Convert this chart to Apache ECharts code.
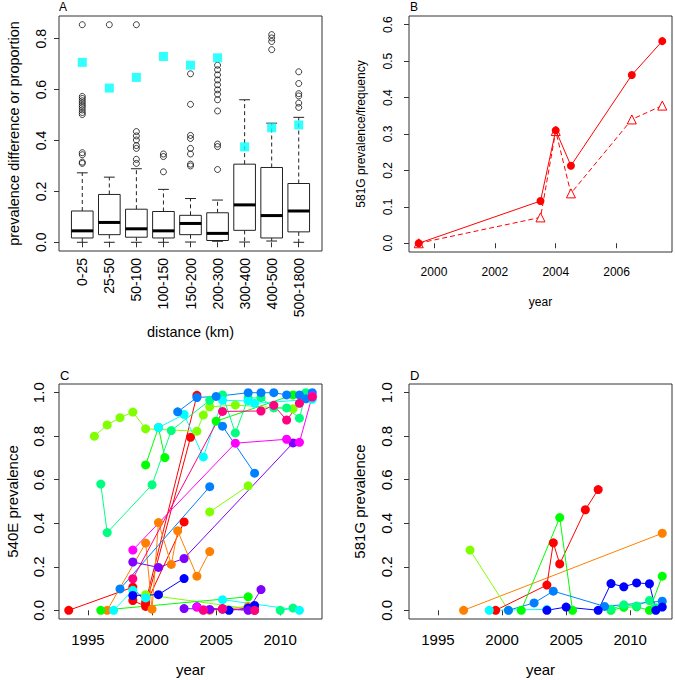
<!DOCTYPE html>
<html>
<head>
<meta charset="utf-8">
<script src="https://cdn.jsdelivr.net/npm/echarts@6/dist/echarts.min.js"></script>
<style>html,body{margin:0;padding:0;background:#fff}#c{width:675px;height:680px}</style>
</head>
<body>
<div id="c"></div>
<script>
// ---------- Panel A data ----------
const categoriesA = ['0-25','25-50','50-100','100-150','150-200','200-300','300-400','400-500','500-1800'];
const whiskerLowA = [0, 0, 0, 0, 0.001, 0.004, 0.001, 0.005, 0];
const q1A = [0.017, 0.030, 0.020, 0.017, 0.030, 0.007, 0.047, 0.017, 0.041];
const medianA = [0.045, 0.078, 0.053, 0.045, 0.074, 0.035, 0.147, 0.105, 0.123];
const q3A = [0.123, 0.188, 0.130, 0.121, 0.106, 0.116, 0.307, 0.294, 0.231];
const whiskerHighA = [0.273, 0.256, 0.289, 0.208, 0.172, 0.166, 0.560, 0.468, 0.491];
const outliersA = [
  [0.855, 0.573, 0.565, 0.556, 0.547, 0.538, 0.530, 0.520, 0.510, 0.502, 0.352, 0.344, 0.315, 0.310],
  [0.855],
  [0.855, 0.435, 0.418, 0.402, 0.380, 0.369, 0.326, 0.310],
  [0.347, 0.337, 0.277],
  [0.662, 0.542, 0.420, 0.408, 0.369, 0.347, 0.307, 0.300],
  [0.696, 0.678, 0.658, 0.638, 0.619, 0.599, 0.582, 0.560, 0.516, 0.386, 0.376, 0.286],
  [],
  [0.816, 0.803, 0.789, 0.757],
  [0.670, 0.624, 0.584, 0.575, 0.547, 0.530]
];
const proportionA = [0.707, 0.606, 0.648, 0.730, 0.696, 0.725, 0.375, 0.450, 0.461];
const yTicksA = [0, 0.2, 0.4, 0.6, 0.8];

// ---------- Panel B data ----------
const yearsB = [1999.5, 2003.5, 2004, 2004.5, 2006.5, 2007.5];
const prevalenceB = [0, 0.116, 0.310, 0.213, 0.462, 0.555];
const frequencyB = [0, 0.071, 0.308, 0.137, 0.340, 0.378];
const xTicksB = [2000, 2002, 2004, 2006];
const yTicksB = [0, 0.1, 0.2, 0.3, 0.4, 0.5, 0.6];

// ---------- Panel C data (540E prevalence by site) ----------
const c_red1 = [[1993.5,0],[1998.5,0.106],[1999.5,0.037],[2003.5,0.988]];
const c_red2 = [[1998.5,0.045],[1999.5,0.018],[2003,0.795]];
const c_red3 = [[1999.5,0.025],[2002.5,0.406]];
const c_red4 = [[2007.5,0.008],[2008,0]];
const c_orange1 = [[1996.5,0],[1999.5,0.309],[2000,0.005],[2000.5,0.403],[2001.5,0.211],[2002,0.365],[2003.5,0.157],[2004.5,0.27]];
const c_orange2 = [[2004.5,0],[2005.5,0.004],[2007.5,0.018],[2008,0.012]];
const c_lime1 = [[1995.5,0.80],[1996.5,0.852],[1997.5,0.885],[1998.5,0.911],[1999.5,0.834],[2003.5,0.823],[2004,0.897],[2004.5,0.935],[2006.5,0.943],[2011,0.926]];
const c_lime2 = [[1999.5,0.072],[2007.5,0.008]];
const c_lime3 = [[2004.5,0.452],[2007.5,0.572]];
const c_green1 = [[1996,0],[2007.5,0.062]];
const c_green2 = [[1999.5,0.668],[2000.5,0.84],[2001,0.702]];
const c_green3 = [[2005,0.869],[2011,0.99]];
const c_spring1 = [[1996,0.58],[1996.5,0.357],[2000,0.577],[2001.5,0.826],[2004.5,0.965],[2005.5,0.99],[2006.5,0.815],[2007.5,0.975],[2008.5,0.977],[2009.5,0.93],[2010.5,0.93],[2011.5,0.883],[2012,1.0]];
const c_spring2 = [[2010,0],[2011,0.01]];
const c_cyan1 = [[1997,0],[1998.5,0.092],[1999.5,0.057]];
const c_cyan2 = [[2000.5,0.84],[2002.5,0.90],[2004,0.705],[2005.5,0.965],[2007.5,0.962],[2008,0.951],[2012.5,0.97]];
const c_cyan3 = [[2005.5,0.049],[2011.5,0]];
const c_azure1 = [[2002,0.912],[2003.5,0.978],[2005,0.983],[2007.5,1.0],[2008.5,1.0],[2009.5,1.0],[2010.5,0.99],[2011.5,0.99],[2012,0.972],[2012.5,1.0]];
const c_azure2 = [[2005.5,0.846],[2008,0.63]];
const c_azure3 = [[1997.5,0.098],[2004.5,0.568]];
const c_blue1 = [[1998.5,0.068],[2000.5,0.072],[2002.5,0.146]];
const c_blue2 = [[2003.5,0.016],[2006,0],[2007.5,0.01],[2008,0.022]];
const c_violet1 = [[1998.5,0.222],[2000.5,0.197],[2002.5,0.238],[2011,0.769]];
const c_violet2 = [[2002.5,0.008],[2004.5,0.004],[2005.5,0.006],[2007.5,0],[2008.5,0.095]];
const c_magenta1 = [[1998.5,0.277],[2006.5,0.768],[2010.5,0.786],[2011.5,0.772],[2012.5,0.985]];
const c_magenta2 = [[2003.5,0.015],[2004,0.003]];
const c_rose1 = [[1998.5,0.145],[2005.5,0.914],[2008.5,0.916],[2009.5,0.942],[2010.5,0.874],[2011.5,0.951],[2012.5,0.98]];
const c_rose2 = [[2004,0],[2005.5,0.008],[2008,0]];

// ---------- Panel D data (581G prevalence by site) ----------
const d_orange = [[1997,0],[2012.5,0.354]];
const d_lime = [[1997.5,0.277],[2000.5,0]];
const d_red = [[1999.5,0],[2003.5,0.116],[2004,0.31],[2004.5,0.213],[2006.5,0.462],[2007.5,0.555]];
const d_green1 = [[2001.5,0],[2004.5,0.426],[2005.5,0]];
const d_green2 = [[2008.5,0],[2009.5,0.014],[2010.5,0.016],[2011.5,0],[2012.5,0.157]];
const d_spring = [[2008.5,0.005],[2009.5,0.025],[2010.5,0.02],[2011.5,0.045],[2012,0.012]];
const d_cyan = [[1999,0],[2003.5,0.004]];
const d_azure = [[2000.5,0],[2002.5,0.034],[2004,0.088],[2008,0.018],[2012.5,0.042]];
const d_blue = [[2003.5,0],[2005,0.015],[2007.5,0],[2008.5,0.123],[2009.5,0.108],[2010.5,0.126],[2011.5,0.122],[2012,0],[2012.5,0.015]];

const xTicksCD = [1995, 2000, 2005, 2010];
const yTicksCD = [0, 0.2, 0.4, 0.6, 0.8, 1.0];

// ---------- styling ----------
const FONT = '"Liberation Sans", Arial, Helvetica, sans-serif';
const COL = {red:'#FF0000', orange:'#FF8000', lime:'#80FF00', green:'#00FF00', spring:'#00FF80',
  cyan:'#00FFFF', azure:'#0080FF', blue:'#0000FF', violet:'#8000FF', magenta:'#FF00FF', rose:'#FF0080'};

const cSeries = [
  [c_red1,'red'],[c_red2,'red'],[c_red3,'red'],[c_red4,'red'],
  [c_orange1,'orange'],[c_orange2,'orange'],
  [c_lime1,'lime'],[c_lime2,'lime'],[c_lime3,'lime'],
  [c_green1,'green'],[c_green2,'green'],[c_green3,'green'],
  [c_spring1,'spring'],[c_spring2,'spring'],
  [c_cyan1,'cyan'],[c_cyan2,'cyan'],[c_cyan3,'cyan'],
  [c_azure1,'azure'],[c_azure2,'azure'],[c_azure3,'azure'],
  [c_blue1,'blue'],[c_blue2,'blue'],
  [c_violet1,'violet'],[c_violet2,'violet'],
  [c_magenta1,'magenta'],[c_magenta2,'magenta'],
  [c_rose1,'rose'],[c_rose2,'rose']
];
const dSeries = [
  [d_orange,'orange'],[d_lime,'lime'],[d_red,'red'],[d_green1,'green'],[d_green2,'green'],
  [d_spring,'spring'],[d_cyan,'cyan'],[d_azure,'azure'],[d_blue,'blue']
];

function gridBox(left, top, width, height){
  return {left, top, width, height, show:true, borderColor:'#333', borderWidth:1, backgroundColor:'transparent', containLabel:false};
}
function axis(gi, min, max, ticks, fmt, fs, name, nameGap, margin, rotate, nameFs){
  return {
    type:'value', gridIndex:gi, min, max, name, nameLocation:'middle', nameGap,
    nameTextStyle:{fontFamily:FONT, fontSize:nameFs||fs, color:'#000'},
    axisLine:{show:false},
    splitLine:{show:false},
    axisTick:{show:true, inside:false, length:5, customValues:ticks, lineStyle:{color:'#333', width:1}},
    axisLabel:{show:true, customValues:ticks, formatter:fmt, fontFamily:FONT, fontSize:fs, color:'#000', margin, rotate:rotate||0, hideOverlap:false}
  };
}
const f1 = v => Number(v).toFixed(1);
const fInt = v => String(Math.round(v));

// Panel A value ranges (R-style 4% expansion)
const aYmin = -0.0342, aYmax = 0.8892;

const boxData = categoriesA.map((c,i)=>[i+1, whiskerLowA[i], q1A[i], medianA[i], q3A[i], whiskerHighA[i]]);
const outlierData = [];
outliersA.forEach((arr,i)=>arr.forEach(v=>outlierData.push([i+1, v])));
const propData = proportionA.map((v,i)=>[i+1, v]);

function renderBox(params, api){
  const x = api.value(0);
  const pLo = api.coord([x, api.value(1)]);
  const pQ1 = api.coord([x, api.value(2)]);
  const pMed = api.coord([x, api.value(3)]);
  const pQ3 = api.coord([x, api.value(4)]);
  const pHi = api.coord([x, api.value(5)]);
  const hw = api.size([0.8, 0])[0] / 2;
  const sw = api.size([0.4, 0])[0] / 2;
  const cx = pMed[0];
  const stroke = {stroke:'#222', lineWidth:1};
  return {type:'group', children:[
    {type:'line', shape:{x1:cx, y1:pQ3[1], x2:cx, y2:pHi[1]}, style:Object.assign({lineDash:[4,3]}, stroke)},
    {type:'line', shape:{x1:cx, y1:pQ1[1], x2:cx, y2:pLo[1]}, style:Object.assign({lineDash:[4,3]}, stroke)},
    {type:'line', shape:{x1:cx-sw, y1:pHi[1], x2:cx+sw, y2:pHi[1]}, style:stroke},
    {type:'line', shape:{x1:cx-sw, y1:pLo[1], x2:cx+sw, y2:pLo[1]}, style:stroke},
    {type:'rect', shape:{x:cx-hw, y:pQ3[1], width:2*hw, height:pQ1[1]-pQ3[1]}, style:{fill:'#fff', stroke:'#222', lineWidth:1}},
    {type:'line', shape:{x1:cx-hw, y1:pMed[1], x2:cx+hw, y2:pMed[1]}, style:{stroke:'#000', lineWidth:3}}
  ]};
}

function lineSeries(data, color, xi, yi, size){
  return {type:'line', xAxisIndex:xi, yAxisIndex:yi, data, symbol:'circle', symbolSize:size, showSymbol:true, showAllSymbol:true,
    lineStyle:{color, width:1}, itemStyle:{color, borderWidth:0}, animation:false, silent:true, z:3};
}

const series = [];
series.push({type:'custom', xAxisIndex:0, yAxisIndex:0, data:boxData, renderItem:renderBox, encode:{x:0, y:[1,2,3,4,5]}, animation:false, silent:true, z:2});
series.push({type:'scatter', xAxisIndex:0, yAxisIndex:0, data:outlierData, symbol:'circle', symbolSize:6,
  itemStyle:{color:'rgba(0,0,0,0)', borderColor:'#111', borderWidth:1}, animation:false, silent:true, z:3});
series.push({type:'scatter', xAxisIndex:0, yAxisIndex:0, data:propData, symbol:'rect', symbolSize:9,
  itemStyle:{color:'#00FFFF'}, animation:false, silent:true, z:4});

// Panel B
series.push({type:'line', xAxisIndex:1, yAxisIndex:1, data:yearsB.map((y,i)=>[y, frequencyB[i]]), symbol:'triangle', symbolSize:9,
  lineStyle:{color:'#FF0000', width:1, type:[5,3]}, itemStyle:{color:'#fff', borderColor:'#FF0000', borderWidth:1}, animation:false, silent:true, z:3});
series.push({type:'line', xAxisIndex:1, yAxisIndex:1, data:yearsB.map((y,i)=>[y, prevalenceB[i]]), symbol:'circle', symbolSize:8,
  lineStyle:{color:'#FF0000', width:1}, itemStyle:{color:'#FF0000'}, animation:false, silent:true, z:4});

cSeries.forEach(([d,c])=>series.push(lineSeries(d, COL[c], 2, 2, 9)));
dSeries.forEach(([d,c])=>series.push(lineSeries(d, COL[c], 3, 3, 9)));

const option = {
  animation:false,
  backgroundColor:'#fff',
  textStyle:{fontFamily:FONT},
  grid:[gridBox(59,16,263,235), gridBox(409,16,263,236), gridBox(59,384,263,235), gridBox(409,384,263,235)],
  xAxis:[
    axis(0, 0.14, 9.86, [1,2,3,4,5,6,7,8,9], v=>categoriesA[Math.round(v)-1], 14, 'distance (km)', 73, 7, 90, 14.5),
    axis(1, 1999.18, 2007.82, xTicksB, fInt, 12, 'year', 44, 14),
    axis(2, 1992.74, 2013.26, xTicksCD, fInt, 15, 'year', 43, 13),
    axis(3, 1992.74, 2013.26, xTicksCD, fInt, 15, 'year', 43, 13)
  ],
  yAxis:[
    axis(0, aYmin, aYmax, yTicksA, f1, 14, 'prevalence difference or proportion', 38, 11, 90, 14.5),
    axis(1, -0.024, 0.624, yTicksB, f1, 12, '581G prevalence/frequency', 42, 15, 90),
    axis(2, -0.04, 1.04, yTicksCD, f1, 15, '540E prevalence', 39, 13, 90),
    axis(3, -0.04, 1.04, yTicksCD, f1, 15, '581G prevalence', 42, 15, 90)
  ],
  graphic:[
    {type:'text', left:59, top:1, style:{text:'A', font:'12px '+FONT, fill:'#000'}},
    {type:'text', left:410, top:1, style:{text:'B', font:'12px '+FONT, fill:'#000'}},
    {type:'text', left:60, top:369, style:{text:'C', font:'13px '+FONT, fill:'#000'}},
    {type:'text', left:410, top:369, style:{text:'D', font:'13px '+FONT, fill:'#000'}}
  ],
  series
};
const chart = echarts.init(document.getElementById('c'), null, {renderer:'svg', width:675, height:680});
chart.setOption(option);
</script>
</body>
</html>
